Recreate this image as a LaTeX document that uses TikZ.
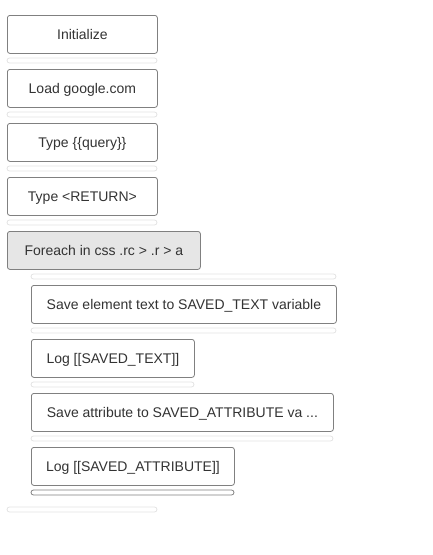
\documentclass[tikz,border=0pt]{standalone}
\usepackage{fontspec}
\setmainfont{Liberation Sans}
\definecolor{boxline}{HTML}{808080}
\definecolor{txt}{HTML}{333333}
\definecolor{barline}{HTML}{E2E2E2}
\definecolor{loopfill}{HTML}{E6E6E6}
\tikzset{stepbox/.style={draw=boxline,line width=0.8pt,rounded corners=2.5pt,fill=white,text=txt,
           anchor=north west,minimum height=38pt,inner sep=0pt,text height=11.5pt,text depth=1.5pt,
           font=\fontsize{14}{16}\selectfont},
         loopbox/.style={stepbox,fill=loopfill},
         gap/.style={draw=barline,line width=0.8pt,rounded corners=2.5pt}
}

\begin{document}
\begin{tikzpicture}[x=1pt,y=-1pt]
  \useasboundingbox (0,0) rectangle (433,555);
  % top level steps
  \foreach\name/\y/\txt in {init/15/Initialize,load/69/Load google.com,query/123/Type \{\{query\}\},ret/177/Type <RETURN>} {
     \node[stepbox,minimum width=150pt] (\name) at (7,\y) {\txt};
     \draw[gap] (7,\y+43) rectangle (157,\y+48);
  }
  \node[loopbox,minimum width=193pt] (loop) at (7,231) {Foreach in css .rc > .r > a};
  \draw[gap] (31,274) rectangle (336,279);
  % steps inside the loop
  \foreach\name/\y/\w/\txt in {savetext/285/305/Save element text to SAVED\_TEXT variable,
                               logtext/339/163/Log [[SAVED\_TEXT]]} {
     \node[stepbox,minimum width=\w pt] (\name) at (31,\y) {\txt};
     \draw[gap] (31,\y+43) rectangle (31+\w,\y+48);
  }
  \node[stepbox,minimum width=302pt] (saveattr) at (31,393) {Save attribute to SAVED\_ATTRIBUTE va ...};
  \draw[gap] (31,436) rectangle (333,441);
  \node[stepbox,minimum width=203pt] (logattr) at (31,447) {Log [[SAVED\_ATTRIBUTE]]};
  \draw[gap,draw=boxline] (31,490) rectangle (234,495);
  \draw[gap] (7,507) rectangle (157,512);
\end{tikzpicture}
\end{document}
